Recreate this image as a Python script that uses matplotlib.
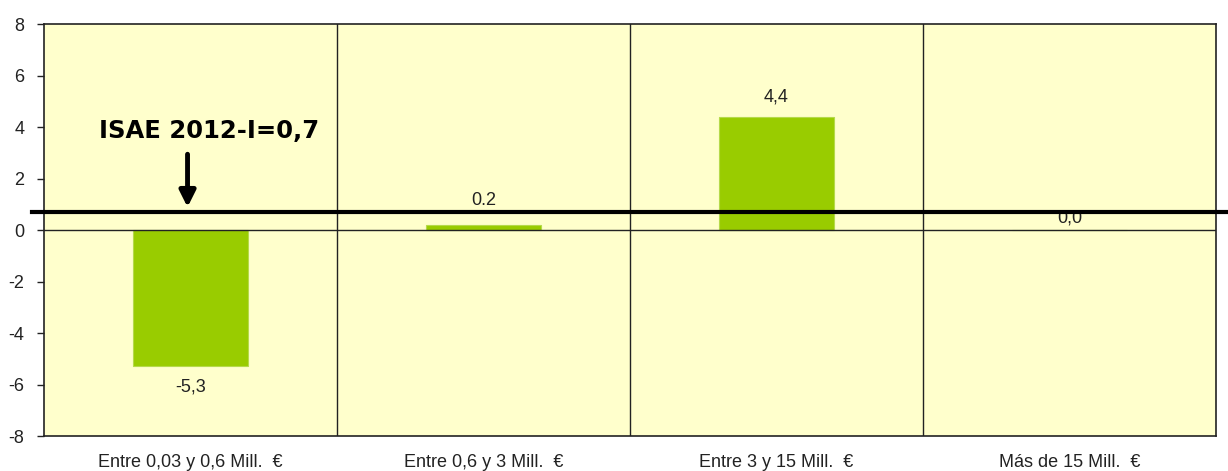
import numpy as np
import matplotlib
matplotlib.use('Agg')
import matplotlib.pyplot as plt

categorias = ['Entre 0,03 y 0,6 Mill.  €', 'Entre 0,6 y 3 Mill.  €',
              'Entre 3 y 15 Mill.  €', 'Más de 15 Mill.  €']
valores = [-5.3, 0.2, 4.4, 0.0]
etiquetas = ['-5,3', '0.2', '4,4', '0,0']
isae = 0.7
isae_txt = 'ISAE 2012-I=0,7'

plt.rcParams['font.family'] = ['Liberation Sans', 'DejaVu Sans']
plt.rcParams['axes.unicode_minus'] = False

fig = plt.figure(figsize=(12.28, 4.71), dpi=100)
ax = fig.add_axes([0.0358, 0.0743, 0.9544, 0.8747])
ax.set_facecolor('#FFFFCC')

x = np.arange(len(valores))
ax.bar(x, valores, width=0.39, color='#99CC00', edgecolor='#B5DA4A', linewidth=0.8, zorder=2)

ax.set_xlim(-0.5, len(valores) - 0.5)
ax.set_ylim(-8, 8)
ax.set_yticks(range(-8, 9, 2))
ax.tick_params(axis='y', labelsize=13, length=5, width=1, pad=9, colors='#222222')
ax.set_xticks(x)
ax.set_xticklabels(categorias, fontsize=13, color='#222222')
ax.tick_params(axis='x', length=0, pad=13)

# separadores entre categorias
for b in np.arange(0.5, len(valores) - 0.5, 1):
    ax.axvline(b, color='#222222', lw=1, zorder=1)
ax.axhline(0, color='#222222', lw=1, zorder=3)

for s in ax.spines.values():
    s.set_color('#222222')
    s.set_linewidth(1.2)

# etiquetas de valor
for xi, v, t in zip(x, valores, etiquetas):
    if v < 0:
        ax.text(xi, v - 0.45, t, ha='center', va='top', fontsize=13, color='#222222')
    elif v > 1:
        ax.text(xi, v + 0.45, t, ha='center', va='bottom', fontsize=13, color='#222222')
    elif v == 0:
        ax.text(xi, v + 0.15, t, ha='center', va='bottom', fontsize=13, color='#222222')
    else:
        ax.text(xi, v + 0.6, t, ha='center', va='bottom', fontsize=13, color='#222222')

# linea de referencia ISAE
ax.plot([-0.01, 1.02], [isae, isae], color='black', lw=3,
        transform=ax.get_yaxis_transform(), clip_on=False, zorder=4)
ax.annotate('', xy=(-0.01, isae + 0.08), xytext=(-0.01, 3.05),
            arrowprops=dict(arrowstyle='-|>', color='black', lw=3.5, mutation_scale=24))
ax.text(0.065, 3.85, isae_txt, ha='center', va='center', fontsize=17.5,
        fontweight='bold', family='DejaVu Sans')

fig.savefig('out.png', dpi=100)
